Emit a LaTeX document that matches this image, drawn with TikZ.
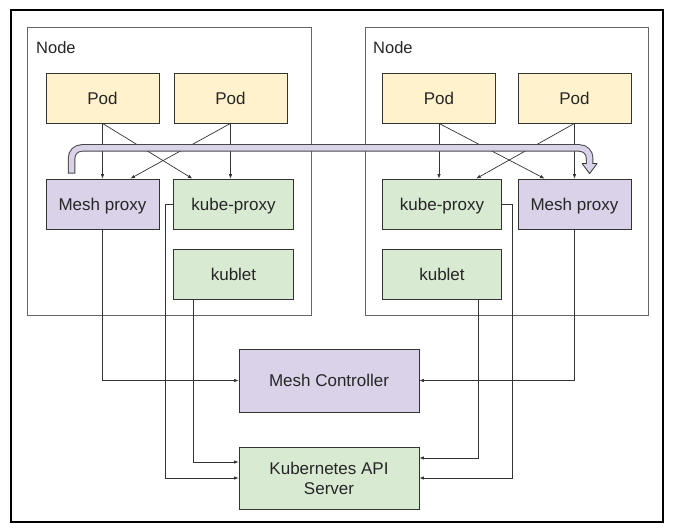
\documentclass[tikz,border=0pt]{standalone}
\usepackage{fontspec}
\setmainfont{Liberation Sans}
\usetikzlibrary{arrows.meta}
\definecolor{podfill}{HTML}{FFF2CC}
\definecolor{meshfill}{HTML}{D9D2E9}
\definecolor{kubefill}{HTML}{D9EAD3}
\definecolor{edgegray}{HTML}{333333}
\definecolor{hostgray}{HTML}{666666}
\begin{document}
\begin{tikzpicture}[x=1pt,y=-1pt,
    box/.style={draw=edgegray,line width=0.8pt,inner sep=0pt,minimum height=50pt,text depth=0pt,
        text=black!85,font=\fontsize{17}{20}\selectfont,align=center},
    pod/.style={box,fill=podfill,minimum width=113pt},
    mesh/.style={box,fill=meshfill,minimum width=113pt},
    kube/.style={box,fill=kubefill,minimum width=119.5pt},
    host/.style={draw=hostgray,line width=1pt},
    hostlabel/.style={anchor=west,inner sep=0pt,text=black!85,font=\fontsize{16.5}{19}\selectfont},
    conn/.style={draw=edgegray,line width=0.7pt,-{Latex[length=4.5pt,width=3.5pt]}},
    tunnel/.style={line width=7.5pt,draw=edgegray!90,rounded corners=10pt}]

    \useasboundingbox (0,0) rectangle (678,532);

    % Frame
    \draw[line width=2pt] (10.5,10.5) rectangle (663,521.5);

    % Left node
    \draw[host] (27,28) rectangle (311,315);
    \node[hostlabel] (lblL) at (36,47.5) {Node};
    \node[pod] (podA) at (102.5,98) {Pod};
    \node[pod] (podB) at (230.5,98) {Pod};
    \node[mesh] (meshL) at (102.5,204) {Mesh proxy};
    \node[kube] (kpL) at (233.5,204) {kube-proxy};
    \node[kube] (kbL) at (233.5,274.5) {kublet};

    % Right node
    \draw[host] (365,28) rectangle (648,315);
    \node[hostlabel] (lblR) at (373,47.5) {Node};
    \node[pod] (podC) at (439,98) {Pod};
    \node[pod] (podD) at (574.5,98) {Pod};
    \node[kube] (kpR) at (442,204) {kube-proxy};
    \node[mesh] (meshR) at (574.5,204) {Mesh proxy};
    \node[kube] (kbR) at (442,274.5) {kublet};

    % Control plane
    \node[box,fill=meshfill,minimum width=180pt,minimum height=63pt] (ctrl) at (329,380.5) {Mesh Controller};
    \node[box,fill=kubefill,minimum width=180pt,minimum height=62pt] (api) at (329,478) {Kubernetes API\\Server};

    % Pods to proxies
    \draw[conn] (podA.south) -- (meshL.north);
    \draw[conn] (podA.south) -- ([xshift=19]kpL.north west);
    \draw[conn] (podB.south) -- (podB.south |- kpL.north);
    \draw[conn] (podB.south) -- ([xshift=-29]meshL.north east);
    \draw[conn] (podC.south) -- (podC.south |- kpR.north);
    \draw[conn] (podC.south) -- ([xshift=27]meshR.north west);
    \draw[conn] (podD.south) -- (meshR.north);
    \draw[conn] (podD.south) -- ([xshift=-26]kpR.north east);

    % Proxies to controller and API server
    \draw[conn] (meshL.south) |- (ctrl.west);
    \draw[conn] (meshR.south) |- (ctrl.east);
    \draw[conn] (kpL.west) -- ++(-8,0) |- (api.west);
    \draw[conn] ([xshift=20]kbL.south west) |- ([yshift=16]api.west);
    \draw[conn] (kpR.east) -- ++(10,0) |- (api.east);
    \draw[conn] ([xshift=-24]kbR.south east) |- ([yshift=20]api.east);

    % Mesh tunnel between the proxies
    \coordinate (tunS) at ([xshift=26,yshift=5]meshL.north west);
    \coordinate (tunE) at ([xshift=72,yshift=15]meshR.north west);
    \draw[tunnel] (tunS) -- (tunS |- 0,148) -- (tunE |- 0,148) -- (tunE);
    \filldraw[fill=meshfill,draw=edgegray,line width=0.8pt,line join=round]
        ([xshift=-7.5]tunE) -- ([xshift=7.5]tunE) -- ([yshift=-10]tunE) -- cycle;
    \draw[tunnel,line width=5.5pt,draw=meshfill,shorten <=1pt]
        (tunS) -- (tunS |- 0,148) -- (tunE |- 0,148) -- ([yshift=-0.6]tunE);

\end{tikzpicture}
\end{document}
